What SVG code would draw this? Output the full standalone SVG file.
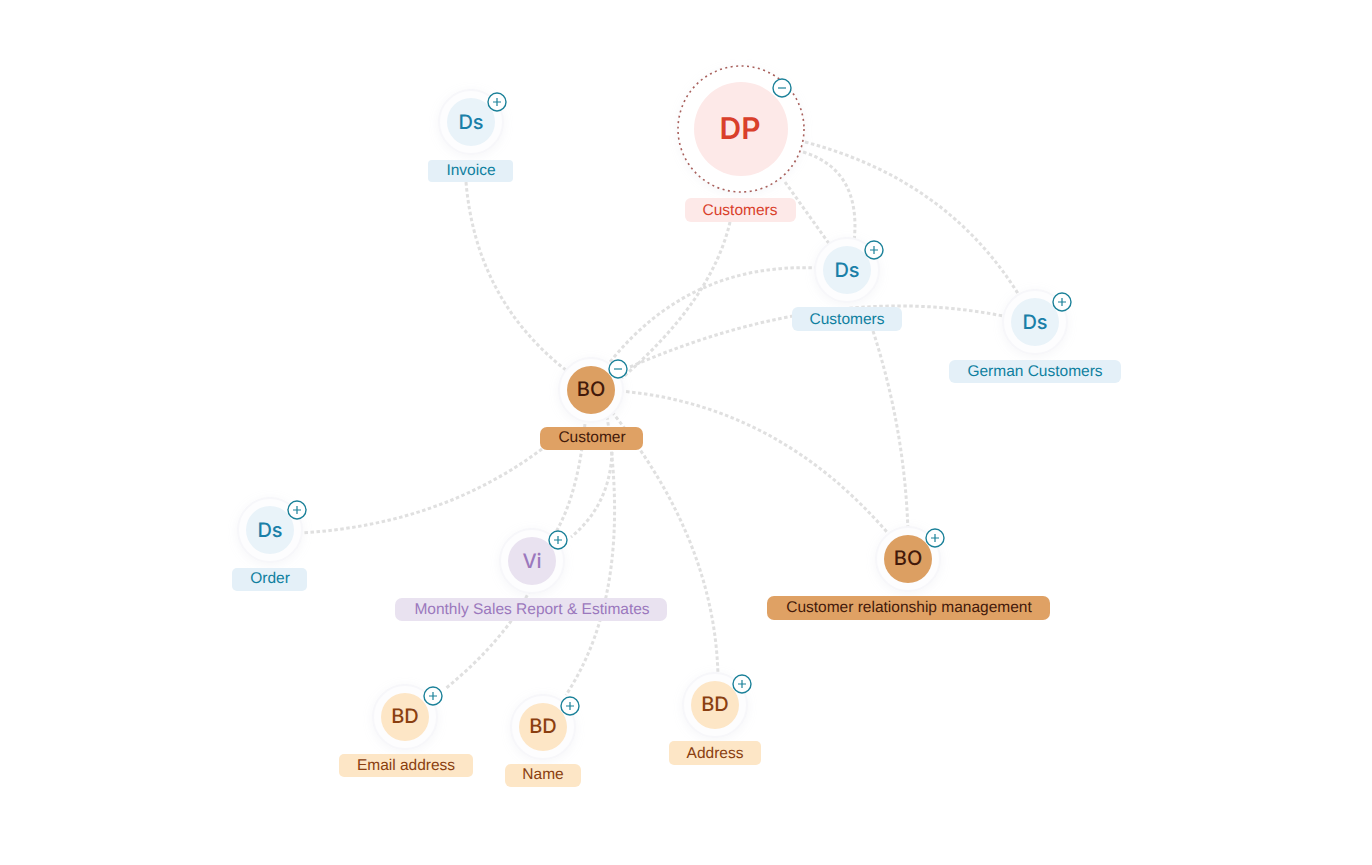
<svg xmlns="http://www.w3.org/2000/svg" width="1372" height="865" viewBox="0 0 1372 865">
<style>
text{font-family:"Liberation Sans",Arial,sans-serif;text-anchor:middle;text-rendering:geometricPrecision}
.edge{fill:none;stroke:#e0e0e0;stroke-width:3;stroke-dasharray:3.500 2.500}
.halo{fill:#fdfdfe;stroke:#f7f7fa;stroke-width:2;filter:url(#soft)}
.tag{font-size:15.5px}
.abbr{font-size:20px;font-weight:500;font-family:Inter,"Liberation Sans",sans-serif}
.tog circle{fill:#fff;stroke:#1b8199;stroke-width:1.4}
.tog path{stroke:#1b8199;stroke-width:1.2;fill:none}
.ds .disc{fill:#e9f3f9}.ds rect{fill:#e4f0f8}.ds .tag{fill:#0f7f9f}.ds .abbr{fill:#1a7fa8}
.bo .disc{fill:#dc9f62}.bo rect{fill:#dfa164}.bo text{fill:#43190a}
.bd .disc{fill:#fde6c6}.bd rect{fill:#fde6c6}.bd text{fill:#8a3f10}
.vi .disc{fill:#e9e2f0}.vi rect{fill:#e9e2f0}.vi text{fill:#9b78bd}
.dp .disc{fill:#fde9e8}.dp rect{fill:#fde9e8}.dp text{fill:#d93f2b}
</style>
<defs>
<filter id="soft" x="-40%" y="-40%" width="180%" height="180%"><feDropShadow dx="0" dy="2" stdDeviation="5" flood-color="#c5cad6" flood-opacity="0.16"/></filter>
<g id="plus" class="tog"><circle r="9"/><path d="M-4 0H4M0-4V4"/></g>
<g id="minus" class="tog"><circle r="9"/><path d="M-4 0H4"/></g>
</defs>
<rect width="1372" height="865" fill="#fff"/>
<g id="connectors">
<path class="edge" d="M466 182Q476 300 567 371"/>
<path class="edge" d="M730 222Q712 300 622 378"/>
<path class="edge" d="M785 182L830 245"/>
<path class="edge" d="M803 152Q862 170 854 242"/>
<path class="edge" d="M805 142Q950 180 1022 300"/>
<path class="edge" d="M818 268Q690 262 610 362"/>
<path class="edge" d="M1008 317Q830 280 630 367"/>
<path class="edge" d="M873 331Q905 430 908 532"/>
<path class="edge" d="M620 391Q780 405 892 538"/>
<path class="edge" d="M542 449Q440 525 300 533"/>
<path class="edge" d="M586 412Q580 490 556 532"/>
<path class="edge" d="M612 452Q610 505 571 537"/>
<path class="edge" d="M606 410Q635 590 566 695"/>
<path class="edge" d="M612 412Q715 540 718 676"/>
<path class="edge" d="M530 590Q505 640 445 689"/>
</g>
<g id="node-dp" class="dp">
<circle cx="741" cy="129" r="63" fill="#fff" style="filter:url(#soft)"/>
<circle cx="741" cy="129" r="63" fill="none" stroke="#a8605c" stroke-width="1.600" stroke-dasharray="2 3.500"/>
<circle class="disc" cx="741" cy="129" r="47"/>
<text class="abbr" x="740" y="139" style="font-size:30px;font-weight:600">DP</text>
<rect x="685" y="198" width="111" height="24" rx="6"/>
<text class="tag" x="740" y="215">Customers</text>
<use href="#minus" x="782" y="88"/>
</g>
<g id="node-invoice" class="ds">
<circle class="halo" cx="471" cy="122" r="32"/><circle class="disc" cx="471" cy="122" r="24"/>
<text class="abbr" x="471" y="129">Ds</text>
<rect x="428" y="160" width="85" height="22" rx="4"/>
<text class="tag" x="471" y="175">Invoice</text>
<use href="#plus" x="497" y="102"/>
</g>
<g id="node-customers" class="ds">
<circle class="halo" cx="847" cy="270" r="32"/><circle class="disc" cx="847" cy="270" r="24"/>
<text class="abbr" x="847" y="277">Ds</text>
<rect x="792" y="307" width="110" height="24" rx="6"/>
<text class="tag" x="847" y="324">Customers</text>
<use href="#plus" x="874" y="250"/>
</g>
<g id="node-german" class="ds">
<circle class="halo" cx="1035" cy="322" r="32"/><circle class="disc" cx="1035" cy="322" r="24"/>
<text class="abbr" x="1035" y="329">Ds</text>
<rect x="949" y="360" width="172" height="23" rx="6"/>
<text class="tag" x="1035" y="376">German Customers</text>
<use href="#plus" x="1062" y="302"/>
</g>
<g id="node-customer" class="bo">
<circle class="halo" cx="591" cy="390" r="32"/><circle class="disc" cx="591" cy="390" r="24"/>
<text class="abbr" x="591" y="396">BO</text>
<rect x="540" y="427" width="103" height="23" rx="7"/>
<text class="tag" x="592" y="442">Customer</text>
<use href="#minus" x="618" y="369"/>
</g>
<g id="node-order" class="ds">
<circle class="halo" cx="270" cy="530" r="32"/><circle class="disc" cx="270" cy="530" r="24"/>
<text class="abbr" x="270" y="537">Ds</text>
<rect x="232" y="568" width="75" height="23" rx="5"/>
<text class="tag" x="270" y="583">Order</text>
<use href="#plus" x="297" y="510"/>
</g>
<g id="node-report" class="vi">
<circle class="halo" cx="532" cy="561" r="32"/><circle class="disc" cx="532" cy="561" r="24"/>
<text class="abbr" x="532" y="568">Vi</text>
<rect x="395" y="598" width="272" height="23" rx="7"/>
<text class="tag" x="532" y="614">Monthly Sales Report &amp; Estimates</text>
<use href="#plus" x="558" y="540"/>
</g>
<g id="node-crm" class="bo">
<circle class="halo" cx="908" cy="559" r="32"/><circle class="disc" cx="908" cy="559" r="24"/>
<text class="abbr" x="908" y="565">BO</text>
<rect x="767" y="596" width="283" height="24" rx="7"/>
<text class="tag" x="909" y="612">Customer relationship management</text>
<use href="#plus" x="935" y="538"/>
</g>
<g id="node-email" class="bd">
<circle class="halo" cx="405" cy="717" r="32"/><circle class="disc" cx="405" cy="717" r="24"/>
<text class="abbr" x="405" y="723">BD</text>
<rect x="339" y="754" width="134" height="23" rx="5"/>
<text class="tag" x="406" y="770">Email address</text>
<use href="#plus" x="433" y="696"/>
</g>
<g id="node-name" class="bd">
<circle class="halo" cx="543" cy="727" r="32"/><circle class="disc" cx="543" cy="727" r="24"/>
<text class="abbr" x="543" y="733">BD</text>
<rect x="505" y="764" width="76" height="23" rx="6"/>
<text class="tag" x="543" y="779">Name</text>
<use href="#plus" x="570" y="706"/>
</g>
<g id="node-address" class="bd">
<circle class="halo" cx="715" cy="705" r="32"/><circle class="disc" cx="715" cy="705" r="24"/>
<text class="abbr" x="715" y="711">BD</text>
<rect x="669" y="741" width="92" height="24" rx="5"/>
<text class="tag" x="715" y="758">Address</text>
<use href="#plus" x="742" y="684"/>
</g>
</svg>
